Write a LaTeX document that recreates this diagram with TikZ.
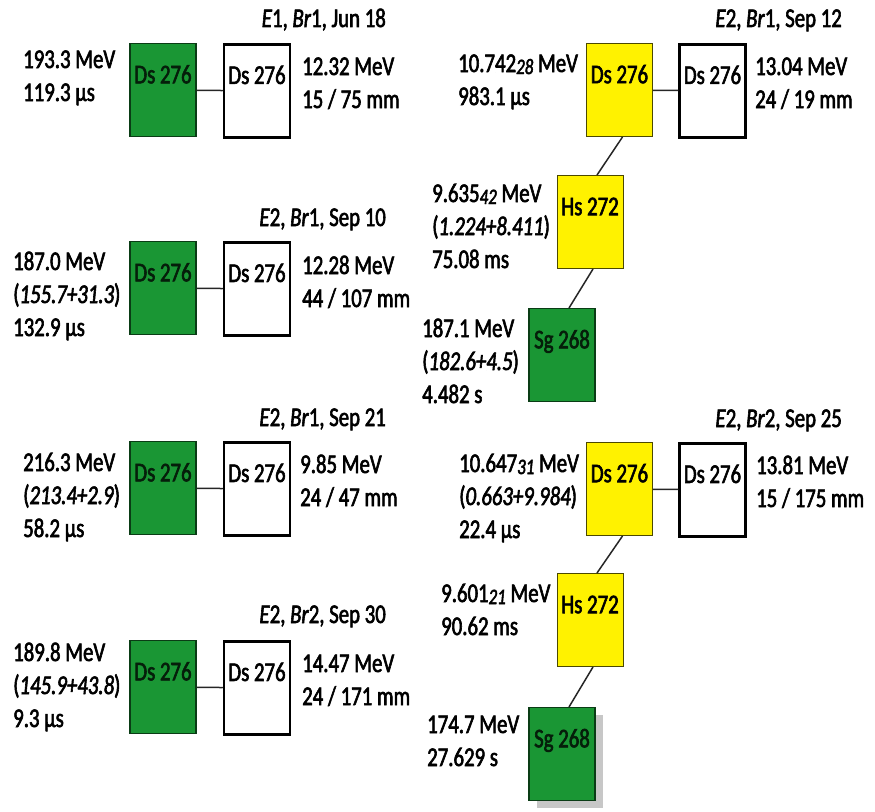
\documentclass[tikz,border=0pt]{standalone}
\usepackage{fontspec}
\setmainfont{Carlito}[FakeStretch=0.77,FakeBold=2.2]
\usetikzlibrary{shadows}
\definecolor{sfgreen}{RGB}{26,150,52}
\definecolor{alyellow}{RGB}{255,242,0}
\newcommand\unc[1]{\raisebox{-2pt}{\fontsize{22}{22}\selectfont\itshape #1}}
\tikzset{
  nuc/.style={minimum width=66pt, minimum height=93pt, inner sep=0pt,
    anchor=north, text height=18pt, text depth=31.6pt},
  sfbox/.style={nuc, draw=sfgreen!40!black, line width=1.2pt, fill=sfgreen,
    text=black!80!sfgreen},
  albox/.style={nuc, draw=black!70!alyellow, line width=1pt, fill=alyellow},
  impbox/.style={nuc, draw=black, line width=2.5pt, fill=white},
  % base of a multi-line node is the last line
  info/.style={anchor=base west, align=left, inner sep=0pt},
  head/.style={anchor=base east, inner sep=0pt},
  link/.style={draw=black!85, line width=1.5pt}
}

\begin{document}
\begin{tikzpicture}[x=1pt,y=-1pt,font=\fontsize{27}{33}\selectfont]
\useasboundingbox (0,0) rectangle (875,811);
% left column: four single events
\node[sfbox] (sf1) at (163,43) {Ds 276};
\node[impbox] (imp1) at (257,43) {Ds 276};
\draw[link] (sf1) -- (imp1);
\node[head] (h1) at (386,27) {\textit{E}1, \textit{Br}1, Jun 18};
\node[info] (l1) at (23,101) {193.3 MeV\\119.3 μs};
\node[info] (r1) at (302,108) {12.32 MeV\\15 / 75 mm};

\node[sfbox] (sf2) at (163,241) {Ds 276};
\node[impbox] (imp2) at (257,241) {Ds 276};
\draw[link] (sf2) -- (imp2);
\node[head] (h2) at (386,226) {\textit{E}2, \textit{Br}1, Sep 10};
\node[info] (l2) at (13,336) {187.0 MeV\\(\textit{155.7+31.3})\\132.9 μs};
\node[info] (r2) at (302,307) {12.28 MeV\\44 / 107 mm};

\node[sfbox] (sf3) at (163,441) {Ds 276};
\node[impbox] (imp3) at (257,441) {Ds 276};
\draw[link] (sf3) -- (imp3);
\node[head] (h3) at (386,426) {\textit{E}2, \textit{Br}1, Sep 21};
\node[info] (l3) at (23,537) {216.3 MeV\\(\textit{213.4+2.9})\\58.2 μs};
\node[info] (r3) at (300,506) {9.85 MeV\\24 / 47 mm};

\node[sfbox] (sf4) at (163,640) {Ds 276};
\node[impbox] (imp4) at (257,640) {Ds 276};
\draw[link] (sf4) -- (imp4);
\node[head] (h4) at (386,623) {\textit{E}2, \textit{Br}2, Sep 30};
\node[info] (l4) at (13,727) {189.8 MeV\\(\textit{145.9+43.8})\\9.3 μs};
\node[info] (r4) at (302,705) {14.47 MeV\\24 / 171 mm};

% right column: two alpha chains
\node[albox] (dsA) at (619.5,43) {Ds 276};
\node[impbox] (impA) at (712.5,43) {Ds 276};
\node[albox] (hsA) at (590,175) {Hs 272};
\node[sfbox] (sgA) at (562,308) {Sg 268};
\draw[link] (dsA) -- (impA);
\draw[link] ([xshift=3pt]dsA.south) -- ([xshift=7pt]hsA.north);
\draw[link] ([xshift=3pt]hsA.south) -- ([xshift=7pt]sgA.north);
\node[head] (hA) at (842,27) {\textit{E}2, \textit{Br}1, Sep 12};
\node[info] (lA) at (458,105) {10.742\unc{28} MeV\\983.1 μs};
\node[info] (rA) at (755,108) {13.04 MeV\\24 / 19 mm};
\node[info] (lhsA) at (432,268) {9.635\unc{42} MeV\\(\textit{1.224+8.411})\\75.08 ms};
\node[info] (lsgA) at (422,403) {187.1 MeV\\(\textit{182.6+4.5})\\4.482 s};

\node[albox] (dsB) at (619.5,442) {Ds 276};
\node[impbox] (impB) at (712.5,442) {Ds 276};
\node[albox] (hsB) at (590,573) {Hs 272};
\node[sfbox, drop shadow={shadow xshift=8pt,shadow yshift=-7pt,fill=black!22,opacity=1}]
  (sgB) at (562,707) {Sg 268};
\draw[link] (dsB) -- (impB);
\draw[link] ([xshift=3pt]dsB.south) -- ([xshift=7pt]hsB.north);
\draw[link] ([xshift=3pt]hsB.south) -- ([xshift=7pt]sgB.north);
\node[head] (hB) at (842,427) {\textit{E}2, \textit{Br}2, Sep 25};
\node[info] (lB) at (459,538) {10.647\unc{31} MeV\\(\textit{0.663+9.984})\\22.4 μs};
\node[info] (rB) at (756,507) {13.81 MeV\\15 / 175 mm};
\node[info] (lhsB) at (441,635) {9.601\unc{21} MeV\\90.62 ms};
\node[info] (lsgB) at (427,766) {174.7 MeV\\27.629 s};
\end{tikzpicture}
\end{document}
